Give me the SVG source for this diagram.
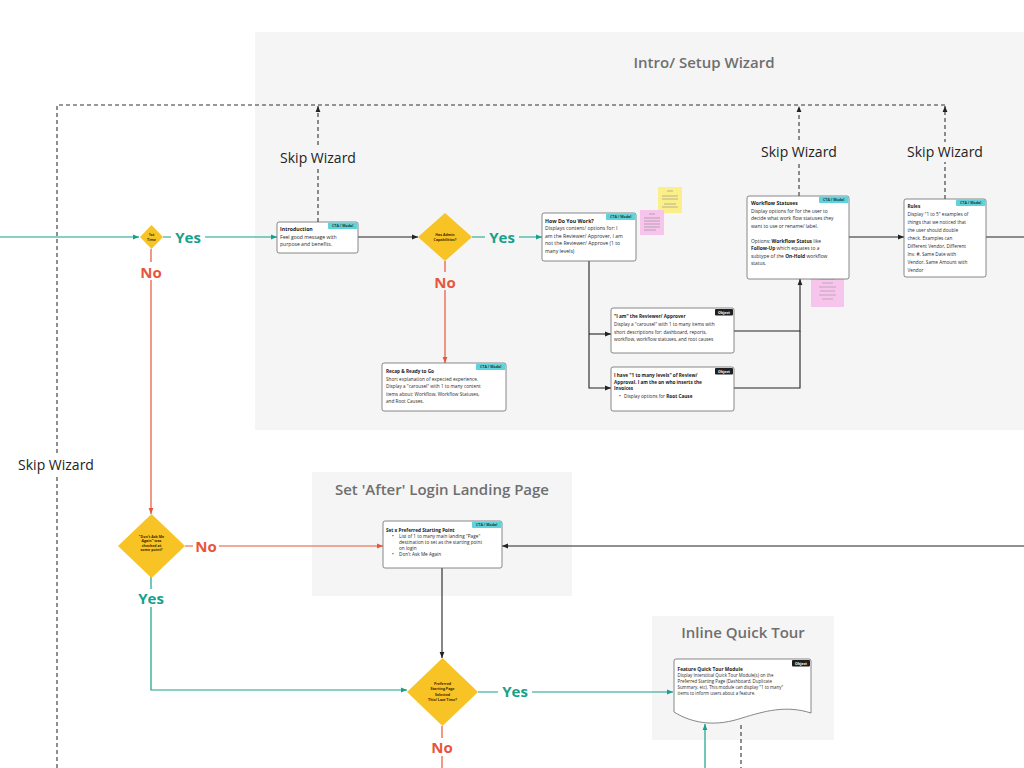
<svg xmlns="http://www.w3.org/2000/svg" width="1024" height="768" viewBox="0 0 1024 768">
<style>
.panel{fill:#f5f5f5;stroke:none}
.ptitle{font-family:"Open Sans","Noto Sans",sans-serif;font-size:15px;font-weight:600;fill:#6f6f6f;text-anchor:middle}
.node{fill:#fff;stroke:#6a6a6a;stroke-width:0.8}
.t{font-family:"Open Sans","Noto Sans",sans-serif;font-size:4.7px;fill:#2a2a2a}
.tb{font-weight:700;fill:#1a1a1a}
.tag{fill:#5ed3dc}
.tagt{font-family:"Open Sans","Noto Sans",sans-serif;font-size:3.6px;font-weight:700;fill:#1e3a3c;text-anchor:middle}
.otag{fill:#1f1f1f}
.otagt{font-family:"Open Sans","Noto Sans",sans-serif;font-size:3.6px;font-weight:700;fill:#fff;text-anchor:middle}
.dia{fill:#f7c325;stroke:none}
.dt{font-family:"Open Sans","Noto Sans",sans-serif;font-size:3.6px;font-weight:700;fill:#3a2c00;text-anchor:middle}
.teal{fill:none;stroke:#17a08a;stroke-width:1.2}
.red{fill:none;stroke:#e8553a;stroke-width:1.2}
.blk{fill:none;stroke:#222;stroke-width:1.1}
.dash{fill:none;stroke:#333;stroke-width:1.1;stroke-dasharray:4 3}
.yes{font-family:"Open Sans","Noto Sans",sans-serif;font-size:15px;font-weight:700;fill:#17a08a;text-anchor:middle}
.no{font-family:"Open Sans","Noto Sans",sans-serif;font-size:15px;font-weight:700;fill:#e8553a;text-anchor:middle}
.skip{font-family:"Open Sans","Noto Sans",sans-serif;font-size:14px;fill:#222;text-anchor:middle}
.sy{fill:#fbef8a}
.sp{fill:#f7c4ec}
.sl{stroke:#8a8a8a;stroke-width:0.6}
</style>
<defs>
<marker id="ak" viewBox="0 0 10 10" refX="10" refY="5" markerWidth="6" markerHeight="6" orient="auto" markerUnits="userSpaceOnUse"><path d="M0,1 L10,5 L0,9 z" fill="#222"/></marker>
<marker id="at" viewBox="0 0 10 10" refX="10" refY="5" markerWidth="6" markerHeight="6" orient="auto" markerUnits="userSpaceOnUse"><path d="M0,1 L10,5 L0,9 z" fill="#17a08a"/></marker>
<marker id="ar" viewBox="0 0 10 10" refX="10" refY="5" markerWidth="6" markerHeight="6" orient="auto" markerUnits="userSpaceOnUse"><path d="M0,1 L10,5 L0,9 z" fill="#e8553a"/></marker>
</defs>
<rect width="1024" height="768" fill="#fff"/>

<g id="panels">
<rect class="panel" x="255" y="32" width="769" height="398"/>
<text class="ptitle" x="704" y="68">Intro/ Setup Wizard</text>
<rect class="panel" x="312" y="472" width="260" height="124"/>
<text class="ptitle" x="442" y="495">Set 'After' Login Landing Page</text>
<rect class="panel" x="652" y="616" width="182" height="124"/>
<text class="ptitle" x="743" y="638">Inline Quick Tour</text>
</g>

<g id="connectors">
<path class="teal" d="M0,237 H139" marker-end="url(#at)"/>
<path class="teal" d="M163,237 H277" marker-end="url(#at)"/>
<path class="teal" d="M472,237 H542" marker-end="url(#at)"/>
<path class="teal" d="M151,576 V690 H407" marker-end="url(#at)"/>
<path class="teal" d="M478,692 H673" marker-end="url(#at)"/>
<path class="teal" d="M705,768 V724" marker-end="url(#at)"/>
<path class="red" d="M151,249 V514" marker-end="url(#ar)"/>
<path class="red" d="M445,261 V363" marker-end="url(#ar)"/>
<path class="red" d="M185,546 H383" marker-end="url(#ar)"/>
<path class="red" d="M442,726 V768"/>
<path class="blk" d="M358,237 H418" marker-end="url(#ak)"/>
<path class="blk" d="M849,237 H904" marker-end="url(#ak)"/>
<path class="blk" d="M986,237 H1024"/>
<path class="blk" d="M589,261 V388 H611" marker-end="url(#ak)"/>
<path class="blk" d="M589,334 H611" marker-end="url(#ak)"/>
<path class="blk" d="M734,331 H800 V279" marker-end="url(#ak)"/>
<path class="blk" d="M734,388 H800 V331"/>
<path class="blk" d="M1024,546 H502" marker-end="url(#ak)"/>
<path class="blk" d="M442,568 V658" marker-end="url(#ak)"/>
<path class="dash" d="M57,768 V105 H945"/>
<path class="dash" d="M318,222 V106" marker-end="url(#ak)"/>
<path class="dash" d="M799,196 V106" marker-end="url(#ak)"/>
<path class="dash" d="M945,199 V106" marker-end="url(#ak)"/>
<path class="dash" d="M741,725 V768"/>
<rect x="272" y="148" width="92" height="20" fill="#f5f5f5"/>
<text class="skip" x="318" y="163">Skip Wizard</text>
<rect x="753" y="142" width="92" height="20" fill="#f5f5f5"/>
<text class="skip" x="799" y="157">Skip Wizard</text>
<rect x="899" y="142" width="92" height="20" fill="#f5f5f5"/>
<text class="skip" x="945" y="157">Skip Wizard</text>
<rect x="12" y="455" width="90" height="20" fill="#fff"/>
<text class="skip" x="56" y="470">Skip Wizard</text>
<rect x="171" y="228" width="34" height="18" fill="#fff"/>
<text class="yes" x="188" y="243">Yes</text>
<rect x="138" y="262" width="26" height="18" fill="#fff"/>
<text class="no" x="151" y="277.5">No</text>
<rect x="485" y="228" width="34" height="18" fill="#f5f5f5"/>
<text class="yes" x="502" y="243">Yes</text>
<rect x="432" y="272" width="26" height="18" fill="#f5f5f5"/>
<text class="no" x="445" y="287.5">No</text>
<rect x="193" y="537" width="26" height="18" fill="#fff"/>
<text class="no" x="206" y="551.5">No</text>
<rect x="134" y="589" width="34" height="18" fill="#fff"/>
<text class="yes" x="151" y="604">Yes</text>
<rect x="498" y="683" width="34" height="18" fill="#fff"/>
<text class="yes" x="515" y="697">Yes</text>
<rect x="429" y="738" width="26" height="18" fill="#fff"/>
<text class="no" x="442" y="753">No</text>
</g>

<g id="d-first">
<path class="dia" d="M151.5,225 L163,237 L151.5,249 L140,237 z"/>
<text class="dt" x="151.5" y="236">1st</text>
<text class="dt" x="151.5" y="240.5">Time</text>
</g>

<g id="n-intro">
<rect class="node" x="277" y="222" width="81" height="31" rx="2"/>
<rect class="tag" x="328" y="222.5" width="29.5" height="6.5" rx="1"/>
<text class="tagt" x="342.7" y="227">CTA / Modal</text>
<text class="t tb" x="280" y="231" style="font-size:5.2px">Introduction</text>
<text class="t" x="280" y="238.5" style="font-size:5.1px">Feel good message with</text>
<text class="t" x="280" y="245.5" style="font-size:5.1px">purpose and benefits.</text>
</g>

<g id="d-admin">
<path class="dia" d="M445,213 L472,237 L445,261 L418,237 z"/>
<text class="dt" x="445" y="235.5">Has Admin</text>
<text class="dt" x="445" y="240.5">Capabilities?</text>
</g>

<g id="n-recap">
<rect class="node" x="382" y="363" width="124" height="48" rx="2"/>
<rect class="tag" x="476" y="363.5" width="29.5" height="6.5" rx="1"/>
<text class="tagt" x="490.7" y="368">CTA / Modal</text>
<text class="t tb" x="386" y="373">Recap &amp; Ready to Go</text>
<text class="t" x="386" y="380.5">Short explanation of expected experience.</text>
<text class="t" x="386" y="388">Display a "carousel" with 1 to many content</text>
<text class="t" x="386" y="395.5">items about: Workflow, Workflow Statuses,</text>
<text class="t" x="386" y="403">and Root Causes.</text>
</g>

<g id="n-how">
<rect class="node" x="542" y="213" width="94" height="48" rx="2"/>
<rect class="tag" x="606" y="213.5" width="29.5" height="6.5" rx="1"/>
<text class="tagt" x="620.7" y="218">CTA / Modal</text>
<text class="t tb" x="545" y="223" style="font-size:5.2px">How Do You Work?</text>
<text class="t" x="545" y="230" style="font-size:5.1px">Displays content/ options for: I</text>
<text class="t" x="545" y="237.5" style="font-size:5.1px">am the Reviewer/ Approver, I am</text>
<text class="t" x="545" y="245" style="font-size:5.1px">not the Reviewer/ Approve (1 to</text>
<text class="t" x="545" y="252.5" style="font-size:5.1px">many levels)</text>
</g>

<g id="stickies">
<rect class="sy" x="658" y="187" width="24" height="26"/>
<path class="sl" d="M667,191 H673 M662,196 H678 M662,199 H678 M664,204 H676 M662,207 H678"/>
<rect class="sp" x="640" y="210" width="24" height="25"/>
<path class="sl" d="M649,214 H655 M644,218 H660 M644,221 H660 M644,224 H660 M644,227 H660 M644,230 H656"/>
<rect class="sp" x="811" y="271" width="33" height="36"/>
<path class="sl" d="M822,275 H833 M820,279 H835 M822,283 H833 M819,287 H836 M820,291 H835 M819,295 H836 M822,299 H833" style="stroke-width:0.5"/>
</g>

<g id="n-iam">
<rect class="node" x="611" y="308" width="123" height="45" rx="2"/>
<rect class="otag" x="715" y="309" width="18" height="6.5" rx="1"/>
<text class="otagt" x="724" y="313.5">Object</text>
<text class="t tb" x="614" y="318">"I am" the Reviewer/ Approver</text>
<text class="t" x="614" y="326">Display a "carousel" with 1 to many items with</text>
<text class="t" x="614" y="333.5">short descriptions for: dashboard, reports,</text>
<text class="t" x="614" y="341">workflow, workflow statuses, and root causes</text>
</g>

<g id="n-ihave">
<rect class="node" x="611" y="367" width="123" height="44" rx="2"/>
<rect class="otag" x="715" y="368" width="18" height="6.5" rx="1"/>
<text class="otagt" x="724" y="372.5">Object</text>
<text class="t tb" x="614" y="377">I have "1 to many levels" of Review/</text>
<text class="t tb" x="614" y="383.5">Approval. I am the on who inserts the</text>
<text class="t tb" x="614" y="390">Invoices</text>
<text class="t" x="619" y="398">• <tspan dx="2">Display options for </tspan><tspan class="tb">Root Cause</tspan></text>
</g>

<g id="n-workflow">
<rect class="node" x="747" y="196" width="102" height="83" rx="2"/>
<rect class="tag" x="819" y="196.5" width="29.5" height="6.5" rx="1"/>
<text class="tagt" x="833.7" y="201">CTA / Modal</text>
<text class="t tb" x="751" y="205" style="font-size:5px">Workflow Statuses</text>
<text class="t" x="751" y="212.5" style="font-size:4.9px">Display options for for the user to</text>
<text class="t" x="751" y="220" style="font-size:4.9px">decide what work flow statuses they</text>
<text class="t" x="751" y="227.5" style="font-size:4.9px">want to use or rename/ label.</text>
<text class="t" x="751" y="242.5" style="font-size:4.9px">Options: <tspan class="tb">Workflow Status</tspan> like</text>
<text class="t" x="751" y="250" style="font-size:4.9px"><tspan class="tb">Follow-Up</tspan> which equates to a</text>
<text class="t" x="751" y="257.5" style="font-size:4.9px">subtype of the <tspan class="tb">On-Hold</tspan> workflow</text>
<text class="t" x="751" y="265" style="font-size:4.9px">status.</text>
</g>

<g id="n-rules">
<rect class="node" x="904" y="199" width="82" height="78" rx="2"/>
<rect class="tag" x="956" y="199.5" width="29.5" height="6.5" rx="1"/>
<text class="tagt" x="970.7" y="204">CTA / Modal</text>
<text class="t tb" x="907.5" y="208">Rules</text>
<text class="t" x="907.5" y="216">Display "1 to 5" examples of</text>
<text class="t" x="907.5" y="224">things that we noticed that</text>
<text class="t" x="907.5" y="232">the user should double</text>
<text class="t" x="907.5" y="240">check. Examples can</text>
<text class="t" x="907.5" y="248">Different Vendor, Different</text>
<text class="t" x="907.5" y="256">Inv. #, Same Date with</text>
<text class="t" x="907.5" y="264">Vendor, Same Amount with</text>
<text class="t" x="907.5" y="272">Vendor</text>
</g>

<g id="d-dontask">
<path class="dia" d="M151.5,514 L185,546 L151.5,578 L118,546 z"/>
<text class="dt" x="151.5" y="538">"Don't Ask Me</text>
<text class="dt" x="151.5" y="542.3">Again" was</text>
<text class="dt" x="151.5" y="546.6">checked at</text>
<text class="dt" x="151.5" y="550.9">some point?</text>
</g>

<g id="n-setx">
<rect class="node" x="383" y="521" width="119" height="47" rx="2"/>
<rect class="tag" x="472" y="521.5" width="29.5" height="6.5" rx="1"/>
<text class="tagt" x="486.7" y="526">CTA / Modal</text>
<text class="t tb" x="386" y="531.5">Set x Preferred Starting Point</text>
<text class="t" x="392" y="537.5">•</text>
<text class="t" x="399" y="537.5">List of 1 to many main landing "Page"</text>
<text class="t" x="399" y="543.5">destination to set as the starting point</text>
<text class="t" x="399" y="549.5">on login</text>
<text class="t" x="392" y="555.5">•</text>
<text class="t" x="399" y="555.5">Don't Ask Me Again</text>
</g>

<g id="d-preferred">
<path class="dia" d="M442.5,658 L478,692 L442.5,726 L407,692 z"/>
<text class="dt" x="442.5" y="684.5">Preferred</text>
<text class="dt" x="442.5" y="690">Starting Page</text>
<text class="dt" x="442.5" y="695.5">Selected</text>
<text class="dt" x="442.5" y="701">This/ Last Time?</text>
</g>

<g id="n-feature">
<path class="node" d="M676,659 H809 a2,2 0 0 1 2,2 V713 C786,705 765,711 742,718 C718,726 695,725 674,712 V661 a2,2 0 0 1 2,-2 z"/>
<rect class="otag" x="792" y="660" width="18" height="6.5" rx="1"/>
<text class="otagt" x="801" y="664.5">Object</text>
<text class="t tb" x="677.5" y="671" style="font-size:4.8px">Feature Quick Tour Module</text>
<text class="t" x="677.5" y="677.3" style="font-size:4.4px">Display Interstitial Quick Tour Module(s) on the</text>
<text class="t" x="677.5" y="683.3" style="font-size:4.4px">Preferred Starting Page (Dashboard, Duplicate</text>
<text class="t" x="677.5" y="689.3" style="font-size:4.4px">Summary, etc). This module can display "1 to many"</text>
<text class="t" x="677.5" y="695.3" style="font-size:4.4px">items to inform users about a feature.</text>
</g>
</svg>
